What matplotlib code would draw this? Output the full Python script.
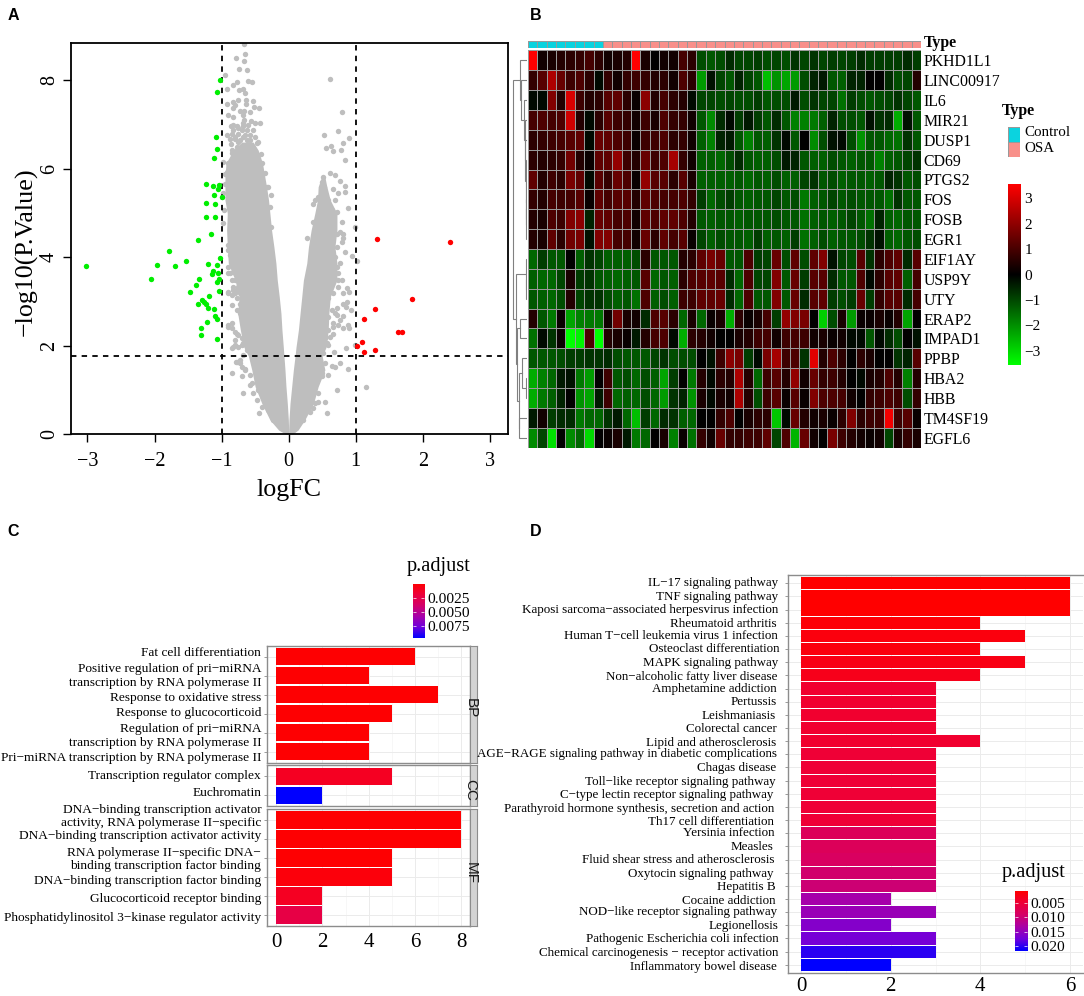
import numpy as np
import matplotlib
matplotlib.use("Agg")
import matplotlib.pyplot as plt
from matplotlib.colors import LinearSegmentedColormap, Normalize
from matplotlib.transforms import ScaledTranslation

plt.rcParams['font.family'] = ['Liberation Serif', 'DejaVu Serif']
plt.rcParams['axes.unicode_minus'] = True
W, H = 1084, 996

# ---------- Panel A data ----------
cloud_left_y = [0, .09, .32, .69, 1.07, 1.45, 1.76, 1.97, 2.35, 2.73, 3.10, 3.48, 3.86, 4.23, 4.61, 4.99, 5.29, 5.59, 5.81, 6.12, 6.42, 6.60]
cloud_left_outer = [-.05, -.15, -.28, -.40, -.50, -.55, -.60, -.67, -.72, -.76, -.74, -.80, -.90, -.915, -.925, -.915, -.95, -.95, -.95, -.935, -.825, -.70]
cloud_left_inner = [0, 0, -.005, -.02, -.04, -.055, -.07, -.08, -.10, -.115, -.14, -.17, -.19, -.22, -.255, -.28, -.30, -.33, -.355, -.39, -.455, -.53]
cloud_right_y = [0, .09, .32, .69, 1.07, 1.45, 1.76, 1.97, 2.35, 2.73, 3.10, 3.48, 3.86, 4.23, 4.61, 4.99, 5.29, 5.59, 5.81]
cloud_right_inner = [0, 0, .005, .02, .045, .07, .095, .11, .145, .17, .195, .22, .27, .295, .335, .39, .43, .44, .49]
cloud_right_outer = [.06, .14, .24, .37, .44, .54, .50, .56, .59, .60, .62, .72, .72, .69, .72, .72, .62, .57, .54]

grey_x = [-.667, -.652, -.791, -.672, -.746, -.617, -.95, -.612, -.552, -.776, -.836, -.92, -.736, -.687, -.652, -.751, -.642, -.527, -.836, -.925,
          -.642, -.80, -.512, -.438, -.826, -.726, -.667, -.577, -.687, -.91, -.826, -.662, -.567, -.502, -.428, -.866, -.687, -.776, -.826, -.70,
          -.627, -.527, -.851, -.751, -.925, -.577, -.502, -.876, -.80, -.687, -.453, -.866, -.751, -.627, -.841, -.413, -.975, -.95, -.323, -.259, -1.0,
          .617, .791, .731, .527, .896, .806, .637, .562, .781, .662, .846, .612, .692, .517, .766, .841, .667, .836, .741, .891, .796, .99, .368, .279, .806, .816, .716,
          .841, .94, 1.015, .866, .90, .866, .925, .856, .816, .89, .90, .816, .99, .851, .682, .766, .692, .642, .592, .493, .89, 1.154, .716, .567, .368, .443, .542,
          -.851, -.70, -.786, -.687, -.438, -.577, -.303, -.229, -.90, -.826, -.80, -.851, -.677, -.776, -.826, -.726, -.652, -.826, -.90,
          -.876, -.851, -.751, -.726, -.851, -.90, -.80, -.70, .667, .741, .692, .766, .617, .567, .716, .667, .816,
          -.90, -.876, -.851, -.90, -.826, -.90, -.80, -.751, -.826, -.90, -.851, -.776, -.726, -.766, -.726, -.677, -.776, -.70, -.90, -.851,
          -.80, -.751, -.70, -.80, -.751, -.851, -.677, -.627, -.677, -.726, -.776, -.70, -.652, -.577, -.552, -.527, -.478, -.403, -.378, -.453,
          .716, .692, .726, .741, .667, .741, .667, .592, .642, .716, .592, .667, .741, .592, .667, .542, .592, .517, .542, .493, .443, .393, .318, .219, .791, .816, .766, .791,
          -.826, -.751, -.677, -.602, -.80, -.726, -.652, -.577, -.478, -.527, -.776, -.851, -.90, -.925, -.95, -.975, -.965, -.985, -.403, -.353, -.303, -.279, -.264,
          .393, .493, .527, .443, .542, .592, .692, .493, .642, .716, .368, .468, .592, .667, .393, .766]
grey_y = [8.81, 8.59, 8.50, 8.44, 8.26, 8.23, 8.11, 7.97, 7.95, 7.95, 7.90, 7.80, 7.78, 7.80, 7.72, 7.56, 7.55, 7.53, 7.51, 7.46,
          7.47, 7.44, 7.40, 7.36, 7.36, 7.31, 7.31, 7.28, 7.21, 7.22, 7.17, 7.10, 7.08, 7.04, 7.02, 6.96, 6.96, 6.96, 6.87, 6.87,
          6.87, 6.87, 6.78, 6.78, 6.75, 6.76, 6.72, 6.66, 6.66, 6.72, 6.61, 6.55, 6.61, 6.64, 6.36, 6.33, 6.15, 5.88, 5.59, 5.40, 5.36,
          8.02, 7.29, 6.84, 6.77, 6.70, 6.59, 6.52, 6.47, 6.43, 6.39, 6.20, 5.91, 5.85, 5.81, 5.72, 5.61, 5.55, 5.48, 5.44, 5.10, 4.80, 4.67, 5.21, 4.44, 4.53, 4.42, 4.53,
          4.12, 4.02, 3.92, 3.31, 3.22, 2.99, 2.80, 2.88, 2.67, 2.46, 2.39, 2.39, 2.01, 1.94, 1.86, 1.60, 1.52, 1.54, 1.33, 1.37, 1.46, 1.07, .99, .47, .58, .73, .73,
          1.37, 1.31, 1.62, .92, .47, 1.11, .54, .32, 4.27, 3.86, 3.18, 2.92, 2.92, 2.27, 1.97, 1.60, 1.48, 3.25, 3.18,
          3.63, 3.48, 3.33, 2.73, 2.50, 2.43, 2.12, 2.01, 3.71, 3.48, 2.73, 2.58, 2.2, 2.05, 2.84, 2.43, 2.95,
          4.16, 4.05, 3.89, 3.78, 3.67, 3.63, 3.48, 3.48, 3.33, 3.22, 3.14, 3.25, 3.18, 3.07, 2.95, 2.88, 2.80, 2.73, 2.46, 2.39,
          2.31, 2.24, 2.16, 2.01, 1.97, 1.94, 2.05, 1.90, 1.79, 1.67, 1.63, 1.52, 1.45, 1.33, 1.15, .92, .77, .62, .84, .99,
          4.23, 4.01, 3.78, 3.63, 3.48, 3.33, 3.18, 3.07, 2.80, 2.69, 2.65, 2.50, 2.46, 2.35, 2.27, 2.16, 2.01, 1.82, 1.60, 1.30, .92, .69, .50, .32, 3.48, 3.18, 3.86, 4.35,
          6.98, 6.91, 7.02, 6.98, 6.72, 6.64, 6.76, 6.64, 6.57, 6.49, 6.49, 6.42, 6.12, 5.93, 5.66, 5.44, 5.06, 4.76, 6.12, 5.89, 5.59, 5.14, 4.69,
          5.29, 5.70, 5.59, 5.36, 5.36, 5.29, 5.29, 5.14, 5.06, 5.02, 4.80, 4.72, 4.80, 4.72, 4.46, 4.57]
green_x = [-1.02, -1.065, -1.08, -1.065, -1.11, -1.23, -1.13, -1.035, -1.05, -1.11, -1.0, -1.24, -1.10, -1.234, -1.095, -1.16, -1.353, -1.78, -1.53, -1.02,
           -3.015, -1.965, -1.70, -1.20, -1.065, -2.055, -1.13, -1.144, -1.055, -1.338, -1.035, -1.07, -1.378, -1.473, -1.04, -1.194, -1.289, -1.259, -1.353, -1.234,
           -1.209, -1.119, -1.104, -1.075, -1.224, -1.313, -1.313, -1.07]
green_y = [8.0, 7.74, 6.72, 6.44, 6.25, 5.65, 5.61, 5.62, 5.54, 5.41, 5.35, 5.22, 5.19, 4.90, 4.90, 4.53, 4.38, 4.14, 3.92, 3.99,
           3.79, 3.83, 3.80, 3.84, 3.83, 3.51, 3.69, 3.61, 3.65, 3.50, 3.50, 3.44, 3.37, 3.22, 3.23, 3.11, 3.04, 2.98, 2.94, 2.93,
           2.85, 2.82, 2.66, 2.61, 2.53, 2.40, 2.24, 2.15]
red_x = [1.323, 2.413, 1.84, 1.294, 1.124, 1.632, 1.69, 1.095, 1.025, 1.289, 1.124]
red_y = [4.40, 4.33, 3.06, 2.83, 2.59, 2.31, 2.31, 2.08, 1.98, 1.89, 1.85]
logfc_cut = 1
p_cut = 1.76

# ---------- Panel B data ----------
genes = ['PKHD1L1', 'LINC00917', 'IL6', 'MIR21', 'DUSP1', 'CD69', 'PTGS2', 'FOS', 'FOSB', 'EGR1',
         'EIF1AY', 'USP9Y', 'UTY', 'ERAP2', 'IMPAD1', 'PPBP', 'HBA2', 'HBB', 'TM4SF19', 'EGFL6']
n_control, n_osa = 8, 34
heat_left = [
 [3.6,.2,.3,.4,.5,.6,.8,.5,.2,.3,.4,3.6,.3,0,.2,.2,.8,.5,-.9,-1.0,-.9],
 [.6,1,2,1.2,.7,.9,.5,-.1,.6,.2,.6,.7,.6,.4,.5,.2,.9,.5,-1.8,-.2,-.8],
 [-.1,-.1,1.5,.4,2.5,.7,.4,.5,1,1.1,.5,.1,1.6,.4,.8,.5,.4,-.1,-.8,-.8,-.9],
 [.8,.9,.8,.9,2.4,.4,-.1,.5,1,.7,.6,.2,.7,.3,.9,.6,.6,.2,-1,-1.6,-.5],
 [.5,.6,.7,.8,1,1.1,-.1,1.2,1.1,.9,.7,.1,.7,.7,.9,.5,.6,.2,-1.1,-1.5,-.4],
 [.5,.4,.5,.6,1.3,.4,.1,1.1,1.1,1.7,.7,.4,1.2,.7,.9,1.9,.6,.2,-1.1,-1.1,-1.2],
 [1.1,.4,.7,.5,1.4,1.1,-.1,1,.6,1.2,.9,.1,1.7,1,1,.5,1,.3,-1.1,-1.1,-1.1],
 [.6,.4,.8,.7,.8,1,.1,1.1,.8,1,1,.4,1.1,.9,.8,.8,.9,.6,-.7,-1.2,-.9],
 [.4,.3,.9,.7,1.5,1.6,-.4,1.2,1.1,.8,.9,.2,1.1,.9,1.1,1.1,.9,.4,-1,-1.1,-1],
 [.4,.3,1.1,.5,1.3,1.4,-.2,1.5,1.5,.8,.8,.2,1.2,.5,1.1,.8,1,.1,-.8,-1.1,-.9],
 [-1.2,-.7,-1,-1,0,-1.1,-.6,-.8,-1.1,-1.1,-1.1,-.9,.5,-1,-1,-1,.4,.5,1.1,1.4,1.2],
 [-1.1,-1.2,-1.2,-.8,.3,-.7,-.6,-1,-1.1,-1.2,-1.1,-1,1,-1.2,-1,-1.1,.5,.9,1,1.1,1],
 [-1,-1.1,-1.2,-.9,.4,-.8,-.6,-.6,-.9,-1.1,-1,-1.3,.9,-1.1,-.9,-1.1,.7,.7,1.1,1.1,1.2],
 [.4,-1,-1.4,.1,-1.9,-1.5,-1.4,-1.4,.2,1.3,.3,.2,-.5,.9,1,.5,-1.2,.3,-1.2,.1,.3],
 [-1.3,-.1,-.6,.1,-3.1,-2.8,.9,-3.6,.4,.3,.1,-.3,.4,.8,.9,-.1,-2,.5,.4,.2,0],
 [-1,-1,-1,-.9,-.7,-.7,-.6,-.6,-.5,-.9,-1,-1,-1,-.8,-.6,-.9,-.9,-.9,0,-.2,.7],
 [-2,-1.5,-1.2,-.3,-.2,-1.4,-1.8,0,.7,-1,-.9,-1.2,-.9,-1.1,-1.9,-.7,0,-1.4,.4,-.1,.5],
 [-2,-1.4,-1.1,-.4,0,-1.7,-1.9,-.3,.7,-1.2,-1.1,-1.2,-.9,-1.2,-1.8,-.6,-.4,-1.7,.3,-.1,.3],
 [-.3,.2,-.7,-.5,-.5,-1.4,-1.2,-1.2,-.6,-.3,-1.2,-2.2,-.7,-1.2,-.5,-.6,-1.1,-1.2,0,0,.6],
 [-1.6,-.8,-2.6,0,-1.6,-1.2,-2.5,0,.1,.3,-.3,-1.4,-1.2,0,.3,-1.5,.1,-1.3,.6,.2,1.2],
]
heat_right = [
 [-.5,-.8,-.8,-.7,-.9,-.8,-.9,-.6,-.8,-.6,-.8,-.7,-.8,-.7,-.5,-.7,-.7,-.7,-.7,-.5,-.7],
 [-1,-.4,-.8,-1,-2.2,-1.7,-1.9,-1.8,-.9,-.4,-.3,-1,-1.1,-.4,-.4,0,0,-.5,-.9,-.8,.4],
 [-.8,-.9,-.9,-.7,-1,-.9,-.9,-.3,-.9,-.6,-.8,-.8,-1.3,-.7,-.9,-1,-.9,-.8,-.6,-.8,-1],
 [-.1,-.7,-.3,-.7,-1,-.5,-1,-1.5,-1.5,-1.4,-1.1,-.4,-.9,-.9,-1,-.2,-.6,-.5,-2,-.2,-1],
 [-.3,-1,-1.5,-1,-1.1,-.6,-.1,-1,0,-1.6,-.9,-.2,-.1,-.9,-1.7,-1,-1,-1.2,-1.3,-.6,-1],
 [-.9,-.5,-1,-1.1,-1.1,-.9,-.3,-.4,-1,-1.1,-1.1,-.9,-1,-1.1,-1,-1,-1.5,-1.1,-1,-.8,-.6],
 [-1.1,-1,-1.2,-1,-1.1,-.9,-1.1,-1.1,-.8,-.6,-1,-.9,-1.1,-1,-1,-1.1,-1,-.4,-.6,-1,-.9],
 [-.7,-1,-1.1,-1,-1,-.8,-1,-.9,-1.4,-1.1,-1,-.8,-1,-.9,-1,-1,-1,-1.3,-.6,-1,-1],
 [-1,-1.1,-1,-1,-1,-.9,-1,-1,-1.3,-1.1,-1,-1.1,-1,-.8,-1,-1.3,-.4,-1.1,-1.2,-1,-1],
 [-1,-1,-1.1,-.7,-1.1,-1,-1.1,-.7,-1.3,-1.1,-.9,-1.1,-1,-1,-.9,-.6,-.2,-1.1,-1.2,-1,-.9],
 [-1,-1,.9,-.7,-.8,1.2,-.9,1.1,-.9,1.1,1.5,-.2,-.8,-.9,1,-.6,.5,.9,1.1,-.5,1],
 [-.5,-1.2,.9,-.8,-.8,1.5,-1,1.2,-.7,1,1,-.5,-1,-1,.9,-.1,.5,1,1.1,-1.1,.8],
 [-.5,-1.2,.9,-1,-1,1.5,-1,1.2,-.5,1,1.1,-.7,-.9,-.7,1.2,-.7,.6,1,1,-.5,.8],
 [-2,.5,.1,.3,.8,-.7,1.7,1.5,1.4,0,-2.4,-.9,.3,-1.8,.1,.1,.3,.1,.4,-1.9,0],
 [0,.3,.4,.7,.8,.2,.7,.8,.7,.2,.3,.1,.2,-.1,-.1,-1,-.1,-.5,-.9,0,-.2],
 [1.6,1.4,-.7,-.1,1.4,1.9,.7,.9,-.6,2.6,.4,.9,.5,0,.5,.3,0,0,-.6,-.4,1],
 [.4,2,.4,-1.2,.7,1,.4,1.7,.2,1.2,.6,.7,.4,0,-.1,.3,.4,.9,.4,-1.5,.4],
 [.2,2,.4,-.9,.7,1,.1,1,.1,1.5,.9,.9,.8,.2,0,.6,.7,.9,.7,-.9,.6],
 [.9,0,.3,.5,.5,-2.3,-.1,1.2,.4,.2,.3,.1,.5,1.5,.5,.7,.7,2.8,.7,1,.1],
 [.6,.6,.7,.7,1.1,-.8,.9,-2.1,1.2,.2,0,1.4,.7,.4,.2,.1,.2,-.8,.3,.6,.3],
]
heat_gain = 1.2  # my first reading of the cell shades came out slightly dark
# dendrogram merges: child a, child b, height (leaves 0-19, new clusters from 20)
dendro_merges = [(7,8,3),(20,9,4),(6,21,4.5),(5,22,5),(4,23,6),(3,24,8),(2,25,10),(1,26,18),(0,27,22),
                 (11,12,3),(10,29,5),(13,14,22),(16,17,5),(15,32,15),(18,19,24),(33,34,25),(31,35,32),(30,36,35),(28,37,44)]
heat_ticks = [3, 2, 1, 0, -1, -2, -3]

# ---------- Panel C data ----------
go_bp = ['Fat cell differentiation', 'Positive regulation of pri−miRNA\ntranscription by RNA polymerase II', 'Response to oxidative stress',
         'Response to glucocorticoid', 'Regulation of pri−miRNA\ntranscription by RNA polymerase II', 'Pri−miRNA transcription by RNA polymerase II']
go_bp_n = [6, 4, 7, 5, 4, 4]
go_bp_p = [.0001, .0001, .0001, .0001, .0001, .0001]
go_cc = ['Transcription regulator complex', 'Euchromatin']
go_cc_n = [5, 2]
go_cc_p = [.0012, .0097]
go_mf = ['DNA−binding transcription activator\nactivity, RNA polymerase II−specific', 'DNA−binding transcription activator activity',
         'RNA polymerase II−specific DNA−\nbinding transcription factor binding', 'DNA−binding transcription factor binding',
         'Glucocorticoid receptor binding', 'Phosphatidylinositol 3−kinase regulator activity']
go_mf_n = [8, 8, 5, 5, 2, 2]
go_mf_p = [.0001, .0001, .0001, .0004, .0012, .0025]
go_ticks = [.0025, .0050, .0075]

# ---------- Panel D data ----------
kegg = ['IL−17 signaling pathway', 'TNF signaling pathway', 'Kaposi sarcoma−associated herpesvirus infection', 'Rheumatoid arthritis',
        'Human T−cell leukemia virus 1 infection', 'Osteoclast differentiation', 'MAPK signaling pathway', 'Non−alcoholic fatty liver disease',
        'Amphetamine addiction', 'Pertussis', 'Leishmaniasis', 'Colorectal cancer', 'Lipid and atherosclerosis',
        'AGE−RAGE signaling pathway in diabetic complications', 'Chagas disease', 'Toll−like receptor signaling pathway',
        'C−type lectin receptor signaling pathway', 'Parathyroid hormone synthesis, secretion and action', 'Th17 cell differentiation',
        'Yersinia infection', 'Measles', 'Fluid shear stress and atherosclerosis', 'Oxytocin signaling pathway', 'Hepatitis B',
        'Cocaine addiction', 'NOD−like receptor signaling pathway', 'Legionellosis', 'Pathogenic Escherichia coli infection',
        'Chemical carcinogenesis − receptor activation', 'Inflammatory bowel disease']
kegg_n = [6, 6, 6, 4, 5, 4, 5, 4, 3, 3, 3, 3, 4, 3, 3, 3, 3, 3, 3, 3, 3, 3, 3, 3, 2, 3, 2, 3, 3, 2]
kegg_p = [.001, .001, .001, .0015, .002, .002, .0025, .003, .0045, .0045, .0045, .0045, .0045, .005, .005, .005, .005, .005, .005,
          .008, .008, .0085, .0095, .010, .0135, .0145, .016, .017, .020, .0216]
kegg_ticks = [.005, .010, .015, .020]

# ---------- helpers ----------
fig = plt.figure(figsize=(W / 100, H / 100), dpi=100, facecolor='white')


def axpx(l, t, r, b, **kw):
    return fig.add_axes([l / W, 1 - b / H, (r - l) / W, (b - t) / H], **kw)


def ftext(x, y, s, **kw):
    kw.setdefault('va', 'center')
    return fig.text(x / W, 1 - y / H, s, **kw)


for s, x, y in [('A', 13, 16), ('B', 536, 16), ('C', 13, 532), ('D', 536, 532)]:
    ftext(x, y, s, family='Liberation Sans', weight='bold', fontsize=11.5, ha='center')

# ---------- Panel A ----------
ax = axpx(70.7, 43, 507.7, 434)
GREY = '#BEBEBE'
ax.fill_betweenx(cloud_left_y, cloud_left_outer, cloud_left_inner, color=GREY, lw=0, zorder=1)
ax.fill_betweenx(cloud_right_y, cloud_right_inner, cloud_right_outer, color=GREY, lw=0, zorder=1)
ax.scatter(grey_x, grey_y, s=15, c=GREY, linewidths=0, zorder=2)
dash = (0, (3.0, 2.9))
ax.axhline(p_cut, color='k', lw=1.3, ls=dash, zorder=3)
ax.axvline(-logfc_cut, color='k', lw=1.3, ls=dash, zorder=3)
ax.axvline(logfc_cut, color='k', lw=1.3, ls=dash, zorder=3)
ax.scatter(green_x, green_y, s=15, c='#00EE00', linewidths=0, zorder=4)
ax.scatter(red_x, red_y, s=15, c='#FF0000', linewidths=0, zorder=4)
ax.set_xlim(-3.25, 3.266)
ax.set_ylim(0, 8.84)
ax.set_xticks([-3, -2, -1, 0, 1, 2, 3])
ax.set_yticks([0, 2, 4, 6, 8])
ax.tick_params(axis='both', length=6, width=1, labelsize=14.5)
ax.tick_params(axis='x', pad=7)
ax.tick_params(axis='y', pad=2.5)
for t in ax.get_yticklabels():
    t.set_rotation(90)
    t.set_va('center')
for s in ax.spines.values():
    s.set_linewidth(1.3)
ax.set_xlabel('logFC', fontsize=18.7, labelpad=5.5)
ax.set_ylabel('−log10(P.Value)', fontsize=18.7)
ax.yaxis.set_label_coords(-.075, .465)

# ---------- Panel B ----------
heat = np.hstack([np.array(heat_left), np.array(heat_right)]) * heat_gain
gbr = LinearSegmentedColormap.from_list('gbr', ['#00FF00', '#000000', '#FF0000'])
H_L, H_R, H_T, H_B = 528, 921, 50.3, 447.7
ax = axpx(H_L, H_T, H_R, H_B)
ax.pcolormesh(heat, cmap=gbr, vmin=-3.55, vmax=3.55, edgecolors='#999999', linewidth=0.45)
ax.set_ylim(len(genes), 0)
ax.set_xticks([])
ax.yaxis.tick_right()
ax.set_yticks(np.arange(len(genes)) + .5, genes)
ax.tick_params(axis='y', length=0, pad=2, labelsize=11.4)
for s in ax.spines.values():
    s.set_visible(False)

ax = axpx(H_L, 41.3, H_R, 48)
types = np.array([[0] * n_control + [1] * n_osa])
ax.pcolormesh(types, cmap=LinearSegmentedColormap.from_list('t', ['#0BD3DF', '#F8908A']), edgecolors='#999999', linewidth=0.5)
ax.set_xticks([])
ax.yaxis.tick_right()
ax.set_yticks([.5], ['Type'])
ax.tick_params(axis='y', length=0, pad=2)
for t in ax.get_yticklabels():
    t.set_fontweight('bold')
    t.set_fontsize(11.4)
    t.set_transform(t.get_transform() + ScaledTranslation(0, 3.5 / 100, fig.dpi_scale_trans))
for s in ax.spines.values():
    s.set_visible(False)

ax = axpx(508, H_T, 527.3, H_B)
nodes = {i: (i, 0.0) for i in range(len(genes))}
nid = len(genes)
for a, b, h in dendro_merges:
    ya, ha = nodes[a]
    yb, hb = nodes[b]
    ax.plot([ha, h, h, hb], [ya, ya, yb, yb], color='#808080', lw=0.8, solid_joinstyle='miter')
    nodes[nid] = ((ya + yb) / 2, h)
    nid += 1
ax.set_xlim(58, 0)
ax.set_ylim(len(genes) - .5, -.5)
ax.axis('off')

ftext(1002, 111, 'Type', weight='bold', fontsize=11.4)
ax = axpx(1007.6, 126.7, 1019.8, 156.7)
ax.pcolormesh(np.array([[0], [1]]), cmap=LinearSegmentedColormap.from_list('t', ['#0BD3DF', '#F8908A']), edgecolors='#999999', linewidth=0.4)
ax.set_ylim(2, 0)
ax.set_xticks([])
ax.yaxis.tick_right()
ax.set_yticks([.3, 1.32], ['Control', 'OSA'])
ax.tick_params(axis='y', length=0, pad=3, labelsize=10.8)
for s in ax.spines.values():
    s.set_visible(False)

ax = axpx(1007.6, 184, 1019.8, 365)
ax.imshow(np.linspace(3.55, -3.55, 256)[:, None], cmap=gbr, vmin=-3.55, vmax=3.55, aspect='auto', extent=(0, 1, -3.55, 3.55))
ax.set_xticks([])
ax.yaxis.tick_right()
ax.set_yticks(heat_ticks)
ax.tick_params(axis='y', length=0, pad=3.4, labelsize=11)
for s in ax.spines.values():
    s.set_visible(False)

# ---------- gradient helper ----------
padj = LinearSegmentedColormap.from_list('padj', ['#FF0000', '#EE0038', '#D40068', '#A800A8', '#7000DC', '#0000FF'])


def gradient(l, t, r, b, vmin, vmax, ticks, fmt):
    a = axpx(l, t, r, b)
    a.imshow(np.linspace(vmin, vmax, 256)[:, None], cmap=padj, vmin=vmin, vmax=vmax, aspect='auto', extent=(0, 1, vmax, vmin))
    a.set_xticks([])
    a.yaxis.tick_right()
    a.set_yticks(ticks, [fmt % v for v in ticks])
    a.tick_params(axis='y', length=2, width=.5, color='white', direction='in', pad=2.4, labelsize=11.1, left=True, right=True)
    for s in a.spines.values():
        s.set_visible(False)


def style_gg(a, xmajor, xminor):
    a.set_facecolor('white')
    a.set_axisbelow(True)
    a.set_xticks(xmajor)
    a.set_xticks(xminor, minor=True)
    a.grid(True, which='major', color='#EBEBEB', lw=.7)
    a.grid(True, which='minor', axis='x', color='#F4F4F4', lw=.5)
    a.tick_params(axis='x', which='minor', length=0)
    for s in a.spines.values():
        s.set_color('#8C8C8C')
        s.set_linewidth(1.0)


def place_labels(a, dy_px, dx_px=None, fs=9.6, spacing=1.15):
    """Shift the y tick labels by a few pixels, as they sit in the reference."""
    dx_px = dx_px or [0] * len(dy_px)
    for t, dy, dx in zip(a.get_yticklabels(), dy_px, dx_px):
        t.set_transform(t.get_transform() + ScaledTranslation(dx / 100, -dy / 100, fig.dpi_scale_trans))
        t.set_multialignment('right')
        t.set_linespacing(spacing)
        t.set_fontsize(fs)


# ---------- Panel C ----------
p_norm_c = Normalize(0, .0097)
facets = [(go_bp, go_bp_n, go_bp_p, 645.7, 762.7, -.58, 5.58, 'BP', [-5.7, -1.9, 1.6, -2.4, 1, 5]),
          (go_cc, go_cc_n, go_cc_p, 765.3, 806, -.58, 1.56, 'CC', [-2.3, -3.6]),
          (go_mf, go_mf_n, go_mf_p, 809, 926, -.58, 5.58, 'MF', [-5.7, -4.7, -1, 2.7, 1.3, 2])]
for labels, n, p, t, b, y0, y1, strip, dy in facets:
    a = axpx(267, t, 470, b)
    pos = np.arange(len(labels))
    a.barh(pos, n, height=.9, color=padj(p_norm_c(p)), zorder=2)
    a.set_xlim(-.40, 8.38)
    a.set_ylim(y1, y0)
    style_gg(a, [0, 2, 4, 6, 8], [1, 3, 5, 7])
    a.set_yticks(pos, labels)
    a.tick_params(axis='y', length=2, width=.6, color='#8C8C8C', pad=2.2)
    place_labels(a, dy)
    if strip == 'MF':
        a.tick_params(axis='x', length=0, pad=5, labelsize=15)
    else:
        a.tick_params(axis='x', length=0, labelbottom=False)
    s = axpx(470, t, 476.7, b)
    s.set_facecolor('#D3D3D3')
    s.set_xticks([])
    s.set_yticks([])
    for sp in s.spines.values():
        sp.set_color('#8C8C8C')
        sp.set_linewidth(.8)
    ftext(470.5, {'BP': 707.7, 'CC': 790, 'MF': 873}[strip], strip, family='Liberation Sans', fontsize=11,
          rotation=-90, ha='center', color='#1A1A1A')
ftext(406.7, 567, 'p.adjust', fontsize=14.7)
gradient(412.7, 584, 424, 638.3, 0, .0097, go_ticks, '%.4f')

# ---------- Panel D ----------
p_norm_d = Normalize(.001, .0216)
a = axpx(787.6, 575, 1083.4, 972.7)
pos = np.arange(len(kegg))
a.barh(pos, kegg_n, height=.93, color=padj(p_norm_d(kegg_p)), zorder=2)
a.set_xlim(-.3, 6.3)
a.set_ylim(29.6, -.63)
style_gg(a, [0, 2, 4, 6], [1, 3, 5])
a.spines['right'].set_visible(False)
a.set_yticks(pos, kegg)
a.tick_params(axis='y', length=2.5, width=.6, color='#8C8C8C', pad=4.4)
a.tick_params(axis='x', length=0, pad=3, labelsize=15)
label_dy = [-1.3, -.7, -.9, -.7, -1.6, -1.5, -.9, .6, -1.5, -1.0, -.5, -.3, .1, -1.9, -1.0, -.5, 0, .1, .3, -1.8, -1.3, -.8, -.1, 0,
            .6, -1.3, -.8, -.6, 0, .5]
label_dx = [.6, 0, 0, -1.7, .2, 1, .6, -1, -1.3, -1.3, -1.7, -1.7, -1.3, -1.3, -1.7, -2.4, -4.3, -4, -4.3, -4, -4.3, -4, -4.3, -2.4,
            -3, -.5, 0, .6, .2, -1.3]
place_labels(a, label_dy, label_dx, fs=9.35)
ftext(1001.3, 872, 'p.adjust', fontsize=14.7)
gradient(1014.8, 891, 1027, 950.7, .001, .0216, kegg_ticks, '%.3f')

fig.savefig('out.png', dpi=100, facecolor='white')
